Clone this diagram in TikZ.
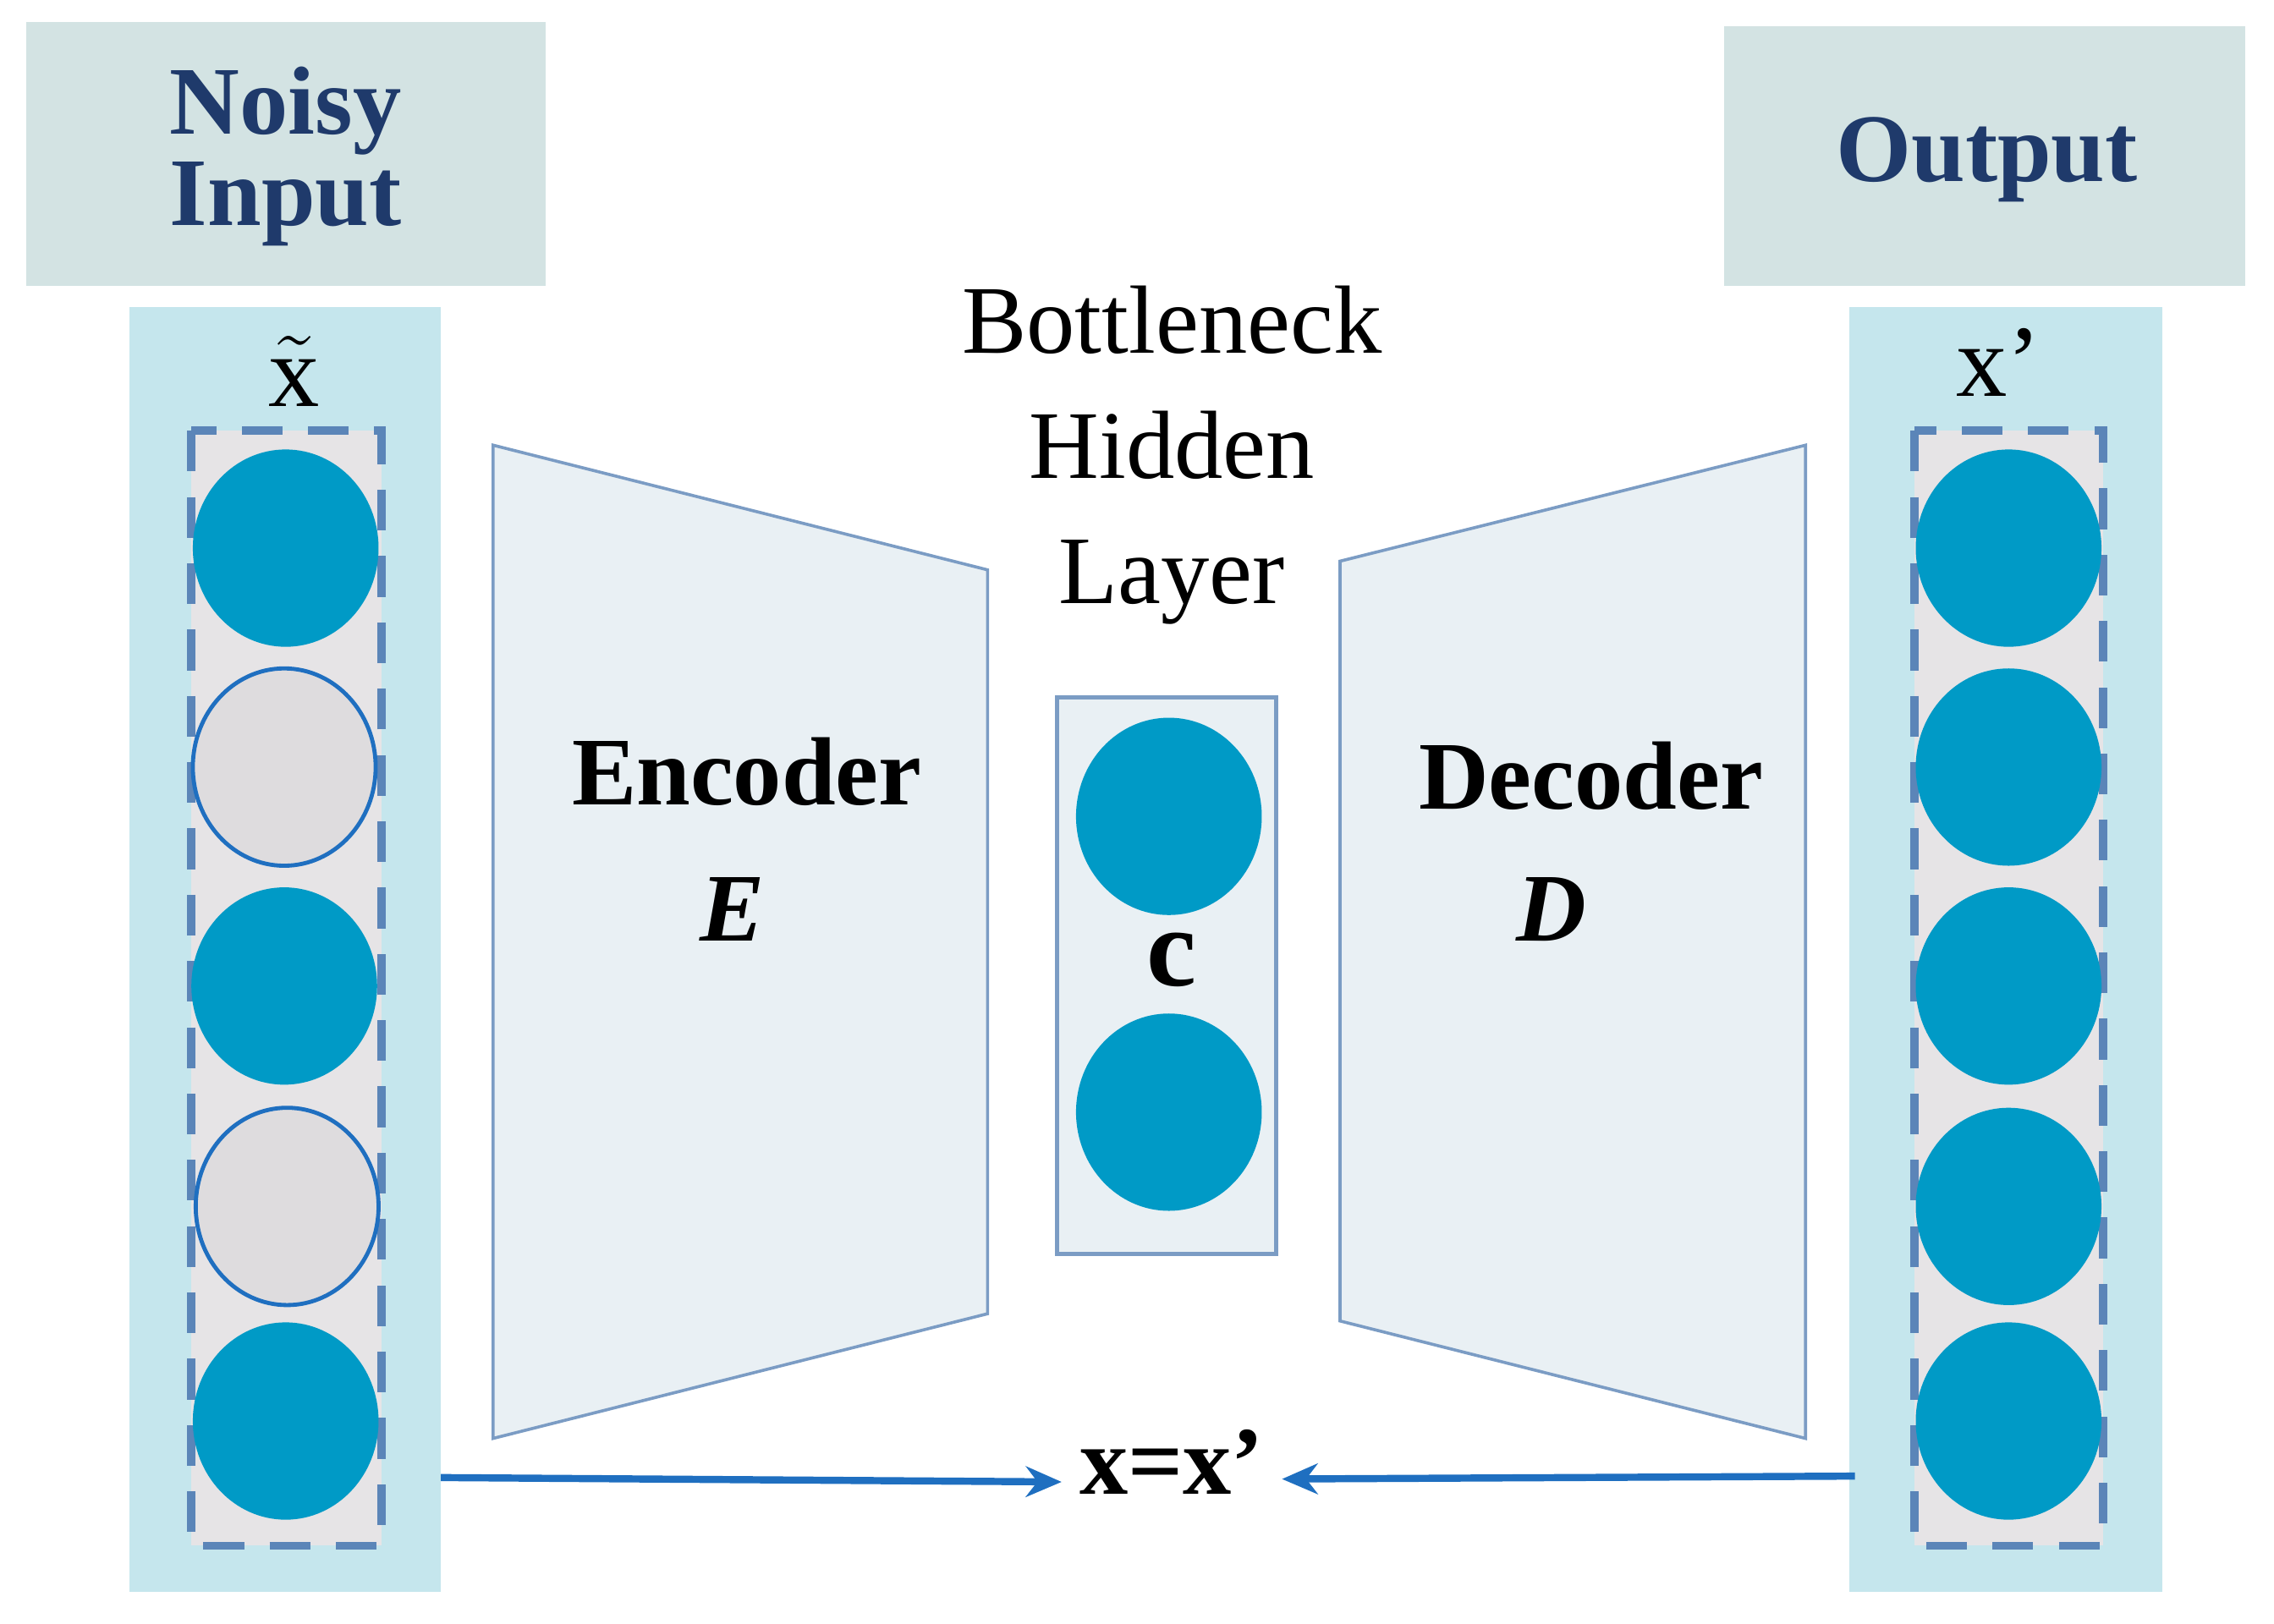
\documentclass[tikz,border=0pt]{standalone}
\usepackage{fontspec}
\setmainfont{Liberation Serif}
\usetikzlibrary{shapes.geometric,arrows.meta}
\definecolor{hdr}{HTML}{D3E3E3}
\definecolor{col}{HTML}{C5E6ED}
\definecolor{inner}{HTML}{E6E4E6}
\definecolor{dash}{HTML}{5B85B8}
\definecolor{neu}{HTML}{009AC6}
\definecolor{grayn}{HTML}{DEDCDE}
\definecolor{trap}{HTML}{E9F0F4}
\definecolor{trapb}{HTML}{7B9CC4}
\definecolor{title}{HTML}{1F3A6B}
\definecolor{arr}{HTML}{1F6FC0}
\begin{document}
\begin{tikzpicture}[x=0.01cm,y=-0.01cm,
  hdrbox/.style={fill=hdr,draw=none},
  colbox/.style={fill=col,draw=none},
  dbox/.style={fill=inner,draw=dash,line width=1.6pt,dash pattern=on 8pt off 5pt},
  neuron/.style={ellipse,fill=neu,minimum width=1.28cm,minimum height=1.36cm,inner sep=0},
  gneuron/.style={ellipse,fill=grayn,draw=arr,line width=0.8pt,minimum width=1.26cm,minimum height=1.36cm,inner sep=0},
  ttl/.style={font=\fontsize{19}{22}\selectfont\bfseries,text=title,align=center},
  lbl/.style={font=\fontsize{17}{20}\selectfont},
  trapz/.style={fill=trap,draw=trapb,line width=0.6pt},
  con/.style={draw=arr,line width=1.4pt,-{Stealth[length=7pt,width=6pt]}}]
\useasboundingbox (0,0) rectangle (1568,1120);
\fill[hdrbox] (18,15) rectangle (376,197);
\fill[hdrbox] (1189,18) rectangle (1548,197);
\node[ttl] (ni) at (197,108) {Noisy\\[-4pt]Input};
\node[ttl] (out) at (1370,110) {Output};
\fill[colbox] (89,212) rectangle (304,1098);
\fill[colbox] (1275,212) rectangle (1491,1098);
\draw[dbox] (132,297) rectangle (263,1066);
\draw[dbox] (1320,297) rectangle (1450,1066);
\node[lbl,font=\fontsize{20}{22}\selectfont] (xt) at (203,256) {$\tilde{\mbox{x}}$};
\node[lbl,font=\fontsize{20}{22}\selectfont] (xp) at (1378,250) {x’};
\node[neuron] (l1) at (197,378) {};
\node[gneuron] (l2) at (196,529) {};
\node[neuron] (l3) at (196,680) {};
\node[gneuron] (l4) at (198,832) {};
\node[neuron] (l5) at (197,980) {};
\foreach \i/\y in {1/378,2/529,3/680,4/832,5/980}
  \node[neuron] (r\i) at (1385,\y) {};
\draw[trapz] (340,307) -- (681,393) -- (681,906) -- (340,992) -- cycle;
\draw[trapz] (924,387) -- (1245,307) -- (1245,992) -- (924,911) -- cycle;
\draw[fill=trap,draw=trapb,line width=0.8pt] (729,481) rectangle (880,865);
\node[neuron] (b1) at (806,563) {};
\node[neuron] (b2) at (806,767) {};
\node[font=\fontsize{22}{24}\selectfont\bfseries] (c) at (808,662) {c};
\node[lbl,align=center,font=\fontsize{19}{24.5}\selectfont] (bn) at (808,314) {Bottleneck\\Hidden\\Layer};
\node[font=\fontsize{19}{22}\selectfont\bfseries] (enc) at (515,532) {Encoder};
\node[font=\fontsize{19}{22}\selectfont\bfseries\itshape] (E) at (505,627) {E};
\node[font=\fontsize{19}{22}\selectfont\bfseries] (dec) at (1097,535) {Decoder};
\node[font=\fontsize{19}{22}\selectfont\bfseries\itshape] (D) at (1070,627) {D};
\node[font=\fontsize{19}{22}\selectfont\bfseries] (eq) at (808,1008) {x=x’};
\coordinate (la) at (304,1019);
\coordinate (ra) at (1279,1018);
\draw[con] (la) -- (eq.west|-0,1022);
\draw[con] (ra) -- (eq.east|-0,1020);
\end{tikzpicture}
\end{document}
